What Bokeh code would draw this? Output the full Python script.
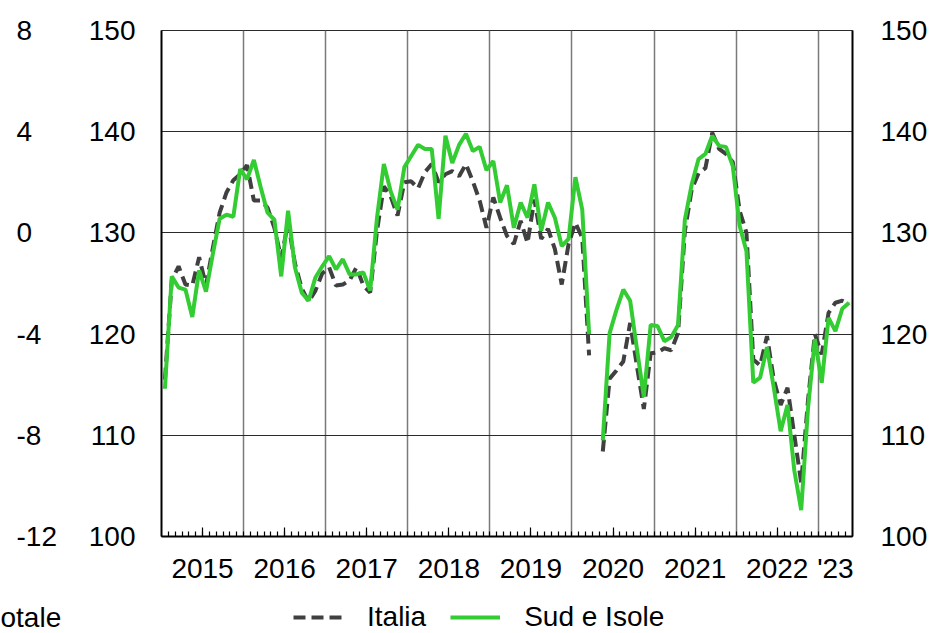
from bokeh.plotting import figure
from bokeh.layouts import row, column
from bokeh.models import (Range1d, LinearAxis, FixedTicker, Grid, Legend, LegendItem,
                          CustomJSTickFormatter)
from bokeh.embed import file_html
from bokeh.resources import INLINE
from bokeh.core.properties import value

FONT = "Liberation Sans"
NAN = float("nan")

# ---- data -------------------------------------------------------------
start_year = 2015
n_months = 101  # Jan 2015 .. May 2023
months = [start_year + (i + 0.5) / 12 for i in range(n_months)]

italia = [
    115.5, 125.3, 126.7, 124.9, 124.8, 127.6, 124.8, 128.5, 132.0, 134.0, 135.2, 135.8,   # 2015
    136.7, 133.2, 133.2, 132.5, 130.5, 127.5, 131.0, 127.0, 124.5, 123.2, 124.3, 126.0,   # 2016
    126.6, 124.8, 124.9, 125.3, 126.6, 124.8, 124.1, 130.2, 134.6, 133.6, 131.7, 135.0,   # 2017
    135.1, 134.4, 136.0, 136.8, 135.0, 135.8, 136.1, 135.6, 136.8, 135.1, 133.2, 130.5,   # 2018
    133.5, 131.5, 129.7, 128.9, 131.2, 129.0, 133.3, 129.4, 130.4, 128.4, 124.9, 128.9,   # 2019
    131.0, 129.5, 117.9, NAN, 108.4, 115.6, 116.4, 117.3, 121.1, 116.8, 112.6, 118.1,     # 2020
    118.2, 118.6, 118.4, 120.1, 130.2, 134.3, 135.9, 136.4, 139.9, 138.3, 137.8, 137.0,   # 2021
    132.2, 130.0, 117.5, 116.9, 119.8, 115.5, 113.0, 114.7, 110.0, 105.3, 113.5, 120.0,   # 2022
    118.0, 122.1, 123.1, 123.3, 123.0,                                                   # 2023
]

sud_isole = [
    114.6, 125.7, 124.6, 124.4, 121.7, 126.3, 124.2, 127.9, 131.4, 131.8, 131.6, 136.3,   # 2015
    135.3, 137.2, 134.5, 132.0, 131.3, 125.7, 132.2, 126.6, 124.1, 123.3, 125.6, 126.7,   # 2016
    127.7, 126.4, 127.4, 125.9, 125.9, 126.1, 124.3, 131.5, 136.8, 134.1, 132.3, 136.5,   # 2017
    137.6, 138.7, 138.3, 138.3, 131.4, 139.6, 136.9, 138.7, 139.8, 138.1, 138.5, 136.2,   # 2018
    137.1, 133.0, 134.7, 130.5, 133.0, 131.5, 134.8, 130.2, 133.0, 131.5, 128.7, 129.4,   # 2019
    135.5, 132.3, 120.0, NAN, 109.5, 120.1, 122.4, 124.4, 123.3, 118.5, 113.8, 120.9,     # 2020
    120.8, 119.3, 119.7, 120.9, 131.3, 134.8, 137.3, 137.8, 139.6, 138.6, 138.5, 136.6,   # 2021
    130.7, 128.2, 115.2, 115.7, 118.7, 114.7, 110.4, 113.0, 106.5, 102.6, 112.7, 119.5,   # 2022
    115.2, 121.6, 120.3, 122.5, 123.1,                                                   # 2023
]

y_ticks = [100, 110, 120, 130, 140, 150]
pct_ticks = [-12, -8, -4, 0, 4, 8]
pct_labels = ["-12", "-8", "-4", "0", "4", "8"]
year_labels = ["2015", "2016", "2017", "2018", "2019", "2020", "2021", "2022", "'23"]
year_label_pos = [2015.5, 2016.5, 2017.5, 2018.5, 2019.5, 2020.5, 2021.5, 2022.5, 2023 + 2.5 / 12]
year_bounds = [2016, 2017, 2018, 2019, 2020, 2021, 2022, 2023]
mid_year_ticks = [2015.5, 2016.5, 2017.5, 2018.5, 2019.5, 2020.5, 2021.5, 2022.5]
month_ticks = [start_year + k / 12 for k in range(1, n_months)]
cut_label = "otale"
series_names = ["Italia", "Sud e Isole"]

# ---- layout constants ---------------------------------------------------
W, H = 931, 633
LEFT_W = 75
MAIN_H = 600
FRAME_TOP, FRAME_BOTTOM = 30, 536
LEGEND_MID = 617
PCT_LO, PCT_HI = -12, 8
upp = (PCT_HI - PCT_LO) / (FRAME_BOTTOM - FRAME_TOP)

IT_STYLE = dict(line_color="#404040", line_width=4, line_dash="12 6")
SUD_STYLE = dict(line_color="#33cc33", line_width=4)


def no_align(f):
    try:
        f.frame_align = False
    except Exception:
        pass
    return f


# ---- left strip: outer percentage scale ---------------------------------
pl = figure(width=LEFT_W, height=H, output_backend="svg", toolbar_location=None,
            x_range=Range1d(0, LEFT_W),
            y_range=Range1d(PCT_LO - (H - FRAME_BOTTOM) * upp, PCT_HI + FRAME_TOP * upp),
            x_axis_type=None, y_axis_type=None,
            min_border_left=0, min_border_right=0, min_border_top=0, min_border_bottom=0)
no_align(pl)
pl.outline_line_color = None
pl.text(x=16, y=pct_ticks, text=pct_labels, text_align="left", text_baseline="middle",
        text_font=value(FONT), text_font_size=value("28px"), text_color="black")
pl.text(x=[0], y=[PCT_LO - (LEGEND_MID - FRAME_BOTTOM) * upp], text=[cut_label],
        text_align="left", text_baseline="middle",
        text_font=value(FONT), text_font_size=value("28px"), text_color="black")

# ---- main chart ---------------------------------------------------------
p = figure(width=W - LEFT_W, height=MAIN_H, output_backend="svg", toolbar_location=None,
           x_range=Range1d(2015, 2023 + 5 / 12), y_range=Range1d(100, 150),
           x_axis_type=None, y_axis_type=None,
           min_border_left=161 - LEFT_W, min_border_right=79,
           min_border_top=FRAME_TOP, min_border_bottom=MAIN_H - FRAME_BOTTOM)
no_align(p)
p.outline_line_color = "#2a2a2a"
p.outline_line_width = 1

p.add_layout(Grid(dimension=0, ticker=FixedTicker(ticks=year_bounds),
                  grid_line_color="#7a7a7a", grid_line_width=1.5))
p.add_layout(Grid(dimension=1, ticker=FixedTicker(ticks=y_ticks),
                  grid_line_color="#2a2a2a", grid_line_width=1))


def y_axis(standoff):
    return LinearAxis(ticker=FixedTicker(ticks=y_ticks),
                      axis_line_color="black", axis_line_width=2,
                      major_tick_in=0, major_tick_out=0, minor_tick_line_color=None,
                      major_label_standoff=standoff,
                      major_label_text_font=FONT, major_label_text_font_size="28px",
                      major_label_text_color="black")


p.add_layout(y_axis(26), "left")
p.add_layout(y_axis(28), "right")

# tick marks only (monthly minor, mid-year major)
xa = LinearAxis(ticker=FixedTicker(ticks=mid_year_ticks, minor_ticks=month_ticks),
                formatter=CustomJSTickFormatter(code="return '';"),
                axis_line_color="black", axis_line_width=2,
                major_tick_in=9, major_tick_out=0, major_tick_line_color="black",
                major_tick_line_width=1.2,
                minor_tick_in=5, minor_tick_out=0, minor_tick_line_color="black",
                minor_tick_line_width=1.2,
                major_label_text_font_size="0px", major_label_standoff=0)
p.add_layout(xa, "below")

# year labels
xl = LinearAxis(ticker=FixedTicker(ticks=year_label_pos),
                formatter=CustomJSTickFormatter(
                    args=dict(pos=year_label_pos, labels=year_labels),
                    code="const i = pos.findIndex(t => Math.abs(t - tick) < 1e-6); return i >= 0 ? labels[i] : '';"),
                axis_line_color=None, major_tick_line_color=None, minor_tick_line_color=None,
                major_label_standoff=10,
                major_label_text_font=FONT, major_label_text_font_size="28px",
                major_label_text_color="black")
p.add_layout(xl, "below")

p.line(months, italia, **IT_STYLE)
p.line(months, sud_isole, **SUD_STYLE)

# ---- legend strip -------------------------------------------------------
LEG_H = H - MAIN_H
pg = figure(width=W - LEFT_W, height=LEG_H, output_backend="svg", toolbar_location=None,
            x_range=Range1d(0, 1), y_range=Range1d(0, 1),
            x_axis_type=None, y_axis_type=None,
            min_border_left=0, min_border_right=0, min_border_top=0, min_border_bottom=0)
no_align(pg)
pg.outline_line_color = None
k_it = pg.line([NAN], [NAN], **IT_STYLE)
k_sud = pg.line([NAN], [NAN], **SUD_STYLE)
legend = Legend(items=[LegendItem(label=series_names[0], renderers=[k_it]),
                       LegendItem(label=series_names[1], renderers=[k_sud])],
                orientation="horizontal", location=(293 - LEFT_W, 0),
                glyph_width=50, glyph_height=20, label_standoff=24, spacing=24,
                padding=0, margin=0, border_line_color=None, background_fill_alpha=0,
                label_text_font=FONT, label_text_font_size="28px", label_text_color="black")
pg.add_layout(legend)

layout = row(pl, column(p, pg))
open("out.html", "w").write(file_html(layout, INLINE))
